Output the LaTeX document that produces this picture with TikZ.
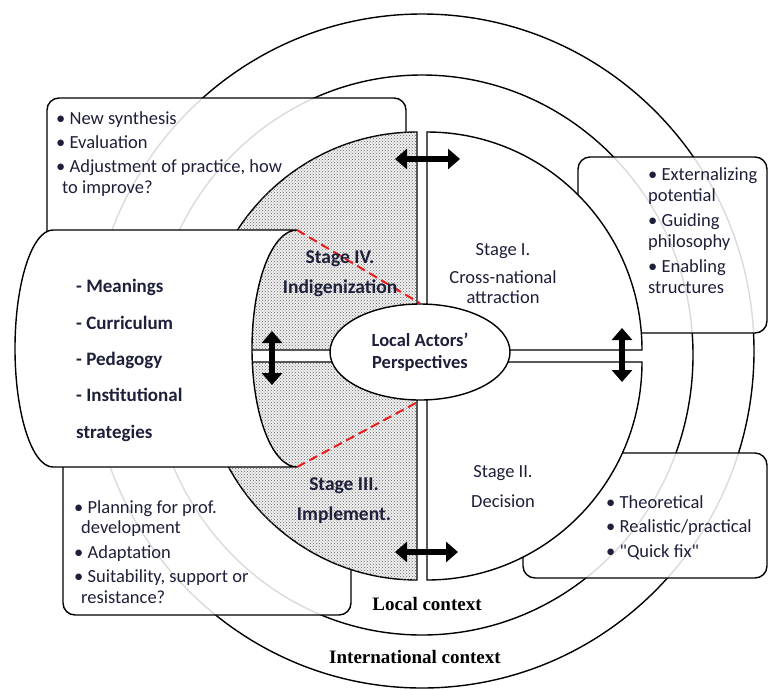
\documentclass[tikz,border=0pt]{standalone}
\usepackage{fontspec}
\setmainfont{Carlito}
\newfontfamily\ctxfont{Liberation Serif}
\usepackage{tikz}
\usetikzlibrary{arrows.meta}
\usetikzlibrary{patterns}
\usetikzlibrary{shapes.geometric}
\definecolor{textcolour}{RGB}{30,32,58}
\definecolor{dashcolour}{RGB}{236,28,28}
\newcommand\linewd{1.4pt}
\newcommand\arrowwd{6pt}
\newcommand\itemfont{\fontsize{18.5}{20.5}\selectfont}
\tikzstyle{graph}        = [line width=\linewd]
\tikzstyle{contextring}  = [graph, black]
\tikzstyle{notebox}      = [graph, rounded corners=12pt, fill=white, fill opacity=.86]
\tikzstyle{stageshade}   = [graph, fill=gray!12, postaction={pattern=crosshatch dots, pattern color=black!60}]
\tikzstyle{stageplain}   = [graph, fill=white]
\tikzstyle{twoway}       = [line width=\arrowwd, {Triangle[width=20pt,length=12pt]}-{Triangle[width=20pt,length=12pt]}]
\tikzstyle{sketchdash}   = [line width=2pt, dashcolour, dash pattern=on 9pt off 5pt]
% multi-line texts sit on the baseline of their last line
\tikzstyle{itemtext}     = [inner sep=0pt, align=left, text=textcolour, font=\itemfont, anchor=base west]
\tikzstyle{stagetext}    = [inner sep=0pt, align=center, text=textcolour, anchor=base]
\tikzstyle{contexttext}  = [inner sep=0pt, anchor=base, font=\ctxfont\bfseries\fontsize{19}{22}\selectfont]

\begin{document}
\begin{tikzpicture}[x=1pt,y=1pt]
  \useasboundingbox (0,0) rectangle (768,-689);
  \newcommand\rad{215}
  \newcommand\vrad{218}
  % context rings
  \draw[contextring] (422,-351) ellipse [x radius=332, y radius=337];
  \draw[contextring] (422,-355) ellipse [x radius=271, y radius=280];
  % note boxes
  \draw[notebox] (47,-98) rectangle (406,-300);
  \draw[notebox] (578,-157) rectangle (767,-333);
  \draw[notebox] (523,-453) rectangle (767,-578);
  \draw[notebox] (63,-420) rectangle (351,-615);
  % stages
  \filldraw[stageplain] (427,-350) -- ++(0,\vrad) arc[start angle=90,end angle=0,x radius=\rad,y radius=\vrad] -- cycle;
  \filldraw[stageplain] (427,-362) -- ++(\rad,0) arc[start angle=0,end angle=-90,x radius=\rad,y radius=\vrad] -- cycle;
  \filldraw[stageshade] (417,-350) -- ++(0,\vrad) arc[start angle=90,end angle=180,x radius=\rad,y radius=\vrad] -- cycle;
  \filldraw[stageshade] (417,-362) -- ++(-\rad,0) arc[start angle=180,end angle=270,x radius=\rad,y radius=\vrad] -- cycle;
  % borrowed practice
  \coordinate (cyltop) at (297,-230);
  \coordinate (cylbot) at (297,-467);
  \filldraw[graph, fill=white] (53,-230) -- (cyltop)
    arc[start angle=90,end angle=270,x radius=45,y radius=118.5] -- (53,-467)
    arc[start angle=270,end angle=90,x radius=38,y radius=118.5] -- cycle;
  % centre
  \node[graph, draw, ellipse, fill=white, inner sep=0pt, minimum width=180, minimum height=96,
        align=center, text=textcolour, font=\bfseries\fontsize{18.5}{22}\selectfont]
        (actors) at (420,-352) {Local Actors'\\Perspectives};
  \draw[sketchdash] (cyltop) -- (actors.north);
  \draw[sketchdash] (cylbot) -- (actors.south);
  % two-way arrows
  \coordinate (topw) at (395,-159);
  \coordinate (tope) at (460,-159);
  \coordinate (botw) at (395,-552);
  \coordinate (bote) at (458,-552);
  \coordinate (lefn) at (272,-331);
  \coordinate (lefs) at (272,-385);
  \coordinate (rign) at (622,-328);
  \coordinate (rigs) at (622,-382);
  \draw[twoway] (topw) -- (tope);
  \draw[twoway] (botw) -- (bote);
  \draw[twoway] (lefn) -- (lefs);
  \draw[twoway] (rign) -- (rigs);
  % stage labels
  \node[stagetext, font=\fontsize{18.5}{20}\selectfont] (attraction) at (503,-303)
    {Stage I.\\[8pt]Cross-national\\attraction};
  \node[stagetext, font=\fontsize{18.5}{20}\selectfont] (decision) at (503,-507)
    {Stage II.\\[10pt]Decision};
  \node[stagetext, font=\bfseries\fontsize{19.5}{30}\selectfont] (indigenization) at (340,-293)
    {Stage IV.\\Indigenization};
  \node[stagetext, font=\bfseries\fontsize{19.5}{30}\selectfont] (implement) at (344,-520)
    {Stage III.\\Implement.};
  % box texts
  \node[itemtext] (synthesis) at (56,-193)
    {\textbullet{} New synthesis\\[3pt]\textbullet{} Evaluation\\[4pt]\textbullet{} Adjustment of practice, how\\\hspace*{6pt}to improve?};
  \node[itemtext] (potential) at (648,-293)
    {\textbullet{} Externalizing\\potential\\[5pt]\textbullet{} Guiding\\philosophy\\[5pt]\textbullet{} Enabling\\structures};
  \node[itemtext, font=\fontsize{18.5}{24.5}\selectfont] (quickfix) at (606,-557)
    {\textbullet{} Theoretical\\\textbullet{} Realistic/practical\\\textbullet{} \textquotedbl Quick fix\textquotedbl};
  \node[itemtext] (planning) at (74,-603)
    {\textbullet{} Planning for prof.\\\hspace*{7pt}development\\[4pt]\textbullet{} Adaptation\\[4pt]\textbullet{} Suitability, support or\\\hspace*{7pt}resistance?};
  \node[itemtext, font=\bfseries\fontsize{19}{36.3}\selectfont] (meanings) at (76,-438)
    {- Meanings\\- Curriculum\\- Pedagogy\\- Institutional\\strategies};
  % contexts
  \node[contexttext] (localctx) at (427,-610) {Local context};
  \node[contexttext] (intlctx) at (415,-663) {International context};
\end{tikzpicture}
\end{document}
